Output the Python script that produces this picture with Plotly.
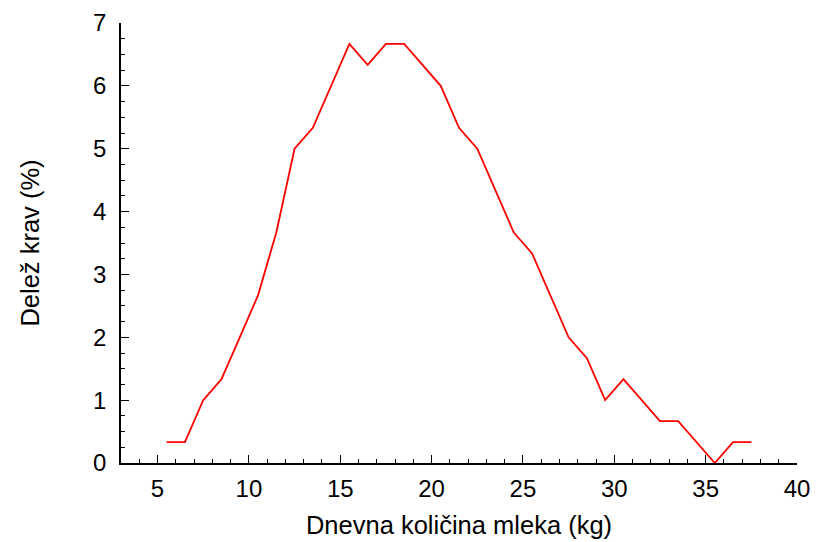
import plotly.graph_objects as go

milk_kg = [5.5, 6.5, 7.5, 8.5, 9.5, 10.5, 11.5, 12.5, 13.5, 14.5, 15.5,
           16.5, 17.5, 18.5, 19.5, 20.5, 21.5, 22.5, 23.5, 24.5, 25.5,
           26.5, 27.5, 28.5, 29.5, 30.5, 31.5, 32.5, 33.5, 34.5, 35.5,
           36.5, 37.5]
share_pct = [0.333, 0.333, 1.0, 1.333, 2.0, 2.667, 3.667, 5.0, 5.333, 6.0,
             6.667, 6.333, 6.667, 6.667, 6.333, 6.0, 5.333, 5.0, 4.333,
             3.667, 3.333, 2.667, 2.0, 1.667, 1.0, 1.333, 1.0, 0.667,
             0.667, 0.333, 0.0, 0.333, 0.333]

x_ticks = [5, 10, 15, 20, 25, 30, 35, 40]
y_ticks = [0, 1, 2, 3, 4, 5, 6, 7]

FONT = "Liberation Sans, Arial, sans-serif"

fig = go.Figure()
fig.add_trace(go.Scatter(x=milk_kg, y=share_pct, mode="lines",
                         line=dict(color="#ff0000", width=1.8),
                         showlegend=False, cliponaxis=False))

fig.update_layout(
    width=819, height=542,
    margin=dict(l=121, r=22, t=23, b=79),
    paper_bgcolor="white", plot_bgcolor="white",
    font=dict(family=FONT, size=24, color="black"),
    xaxis=dict(
        range=[3, 40], tickvals=x_ticks, ticks="inside", ticklen=8,
        tickwidth=1.2, tickcolor="black", showline=True, linecolor="black",
        linewidth=1.5, showgrid=False, zeroline=False,
        minor=dict(dtick=1, ticks="inside", ticklen=4, tickwidth=1.2,
                   tickcolor="black", showgrid=False),
        ticklabelstandoff=3,
        title=dict(text="Dnevna količina mleka (kg)", standoff=16,
                   font=dict(size=25.5)),
        automargin=False,
    ),
    yaxis=dict(
        range=[0, 7], tickvals=y_ticks, ticks="inside", ticklen=8,
        tickwidth=1.2, tickcolor="black", showline=True, linecolor="black",
        linewidth=1.5, showgrid=False, zeroline=False,
        minor=dict(dtick=0.25, ticks="inside", ticklen=4, tickwidth=1.2,
                   tickcolor="black", showgrid=False),
        ticklabelstandoff=8,
        title=dict(text="Delež krav (%)", standoff=46, font=dict(size=25.5)),
        automargin=False,
    ),
)

fig.write_html("out.html")
